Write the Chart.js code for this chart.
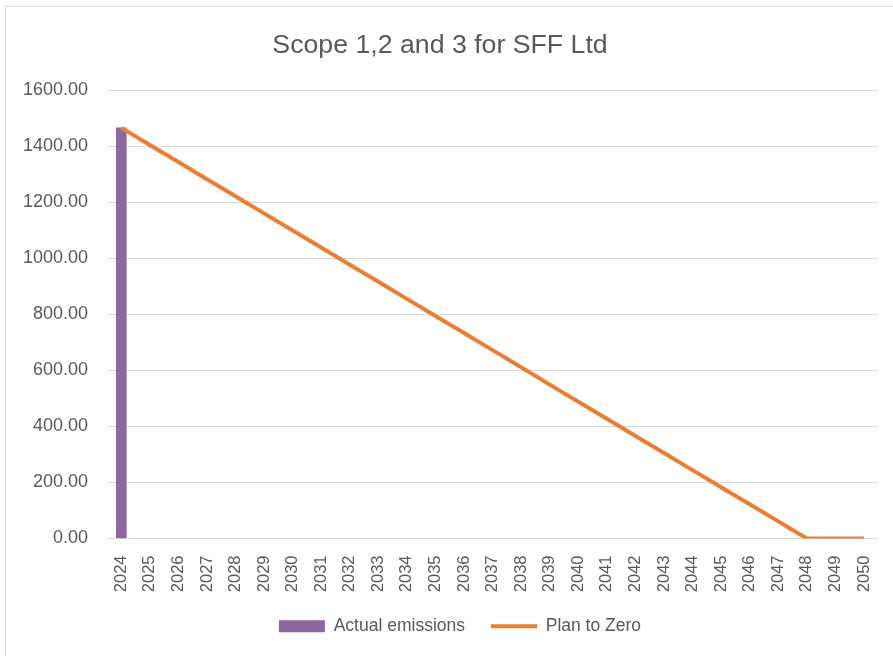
<!DOCTYPE html>
<html>
<head>
<meta charset="utf-8">
<script src="https://cdn.jsdelivr.net/npm/chart.js@4/dist/chart.umd.min.js"></script>
<style>
  html, body { margin: 0; padding: 0; width: 893px; height: 656px; overflow: hidden; background: #fff; }
  #frame { position: absolute; left: 5px; top: 6px; width: 2000px; height: 2000px; border: 1px solid #d9d9d9; }
  #wrap { position: absolute; left: 0; top: 0; width: 893px; height: 645px; }
</style>
</head>
<body>
<div id="frame"></div>
<div id="wrap"><canvas id="c"></canvas></div>
<script>
const years = ['2024','2025','2026','2027','2028','2029','2030','2031','2032','2033','2034','2035','2036','2037','2038','2039','2040','2041','2042','2043','2044','2045','2046','2047','2048','2049','2050'];
const actualEmissions = [1465, null, null, null, null, null, null, null, null, null, null, null, null, null, null, null, null, null, null, null, null, null, null, null, null, null, null];
const planToZero = [1465, 1404, 1343, 1282, 1221, 1160, 1099, 1038, 977, 916, 855, 794, 733, 672, 611, 549, 488, 427, 366, 305, 244, 183, 122, 61, 0, 0, 0];
const chartTitle = 'Scope 1,2 and 3 for SFF Ltd';

const purple = '#8B69A0';
const orange = '#ED7D31';
const textGrey = '#595959';
const gridGrey = '#D9D9D9';

const shiftLegend = {
  id: 'shiftLegend',
  afterLayout(chart) {
    const l = chart.legend;
    if (l) { l.left += 20; l.right += 20; }
  }
};

new Chart(document.getElementById('c'), {
  data: {
    labels: years,
    datasets: [
      {
        type: 'line',
        label: 'Plan to Zero',
        data: planToZero,
        borderColor: orange,
        backgroundColor: orange,
        borderWidth: 4,
        pointRadius: 0,
        pointHoverRadius: 0,
        tension: 0,
        order: 0
      },
      {
        type: 'bar',
        label: 'Actual emissions',
        data: actualEmissions,
        backgroundColor: purple,
        borderWidth: 0,
        barThickness: 10,
        order: 1
      }
    ]
  },
  plugins: [shiftLegend],
  options: {
    responsive: true,
    maintainAspectRatio: false,
    animation: false,
    layout: { padding: { top: 12, right: 13, bottom: 0, left: 0 } },
    plugins: {
      title: {
        display: true,
        text: chartTitle,
        color: textGrey,
        font: { family: 'Liberation Sans', size: 26.7, weight: 'normal' },
        padding: { top: 18, bottom: 28 }
      },
      legend: {
        position: 'bottom',
        reverse: true,
        labels: {
          color: textGrey,
          font: { family: 'Liberation Sans', size: 17.5 },
          padding: 26,
          usePointStyle: true,
          pointStyleWidth: 46,
          boxHeight: 12,
          generateLabels: (chart) => {
            const items = Chart.defaults.plugins.legend.labels.generateLabels(chart);
            items.forEach(it => {
              const ds = chart.data.datasets[it.datasetIndex];
              if (ds.type === 'bar') {
                it.pointStyle = 'rect';
                it.fillStyle = purple;
                it.strokeStyle = purple;
                it.lineWidth = 0;
              } else {
                it.pointStyle = 'line';
                it.strokeStyle = orange;
                it.lineWidth = 4;
              }
            });
            return items;
          }
        }
      },
      tooltip: { enabled: false }
    },
    scales: {
      x: {
        grid: { display: false },
        border: { display: false },
        ticks: {
          color: textGrey,
          font: { family: 'Liberation Sans', size: 16.5 },
          minRotation: 90,
          maxRotation: 90,
          padding: 9,
          autoSkip: false
        },
        afterFit: (s) => { s.height = 53; }
      },
      y: {
        min: 0,
        max: 1600,
        grid: { color: gridGrey, lineWidth: 1, drawTicks: false },
        border: { display: false },
        ticks: {
          stepSize: 200,
          color: textGrey,
          font: { family: 'Liberation Sans', size: 18 },
          padding: 19,
          callback: (v) => Number(v).toFixed(2)
        },
        afterFit: (s) => { s.width = 107; }
      }
    }
  }
});
</script>
</body>
</html>
